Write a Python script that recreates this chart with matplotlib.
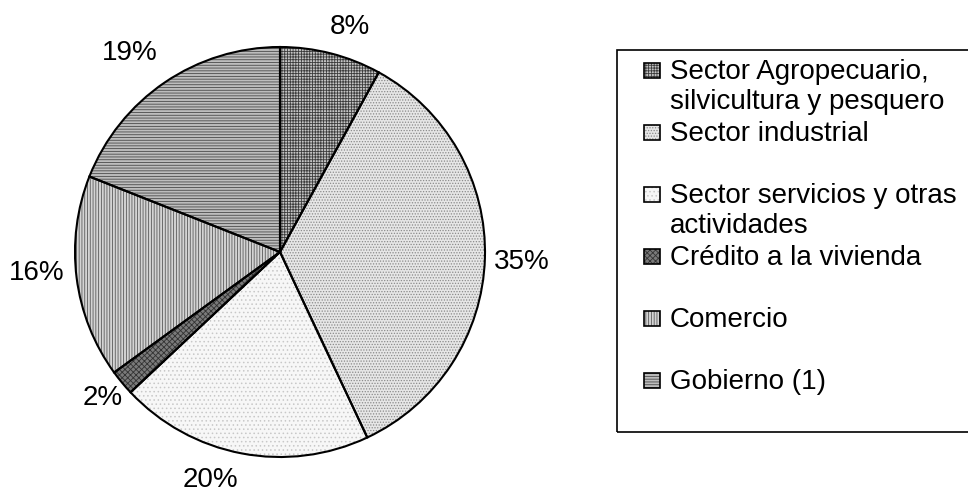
import matplotlib
matplotlib.use("Agg")
from matplotlib import pyplot as plt
from matplotlib.patches import Rectangle

plt.rcParams['font.family'] = ['Liberation Sans', 'DejaVu Sans']
plt.rcParams['hatch.linewidth'] = 0.6

W, H = 968, 492

# data
labels = ["Sector Agropecuario,\nsilvicultura y pesquero",
          "Sector industrial",
          "Sector servicios y otras\nactividades",
          "Crédito a la vivienda",
          "Comercio",
          "Gobierno (1)"]
shares = [8, 35, 20, 2, 16, 19]

# fill / hatch style per slice (grey patterns like the original print)
faces = ['#c4c4c4', '#e6e6e6', '#f7f7f7', '#7a7a7a', '#d4d4d4', '#bdbdbd']
hcols = ['#3c3c3c', '#8a8a8a', '#c8c8c8', '#333333', '#5a5a5a', '#4a4a4a']
hatches = ['+' * 6, '.' * 6, '.' * 4, 'x' * 6, '|' * 6, '-' * 6]

# where excel put the percentage labels (pixel centres)
pct_pos = [(350, 27), (522, 262), (210, 480), (103, 398), (37, 273), (130, 53)]

fig = plt.figure(figsize=(W / 100, H / 100), dpi=100)
cx, cy, r = 280, 252, 205
ax = fig.add_axes([(cx - r) / W, (H - cy - r) / H, 2 * r / W, 2 * r / H])

# first pass: patterned fills, hatch drawn in edge colour
wedges, _ = ax.pie(shares, startangle=90, counterclock=False, radius=1,
                   colors=faces, wedgeprops=dict(linewidth=0))
for w, h, hc in zip(wedges, hatches, hcols):
    w.set_hatch(h)
    w.set_edgecolor(hc)

# second pass: black outlines
ax.pie(shares, startangle=90, counterclock=False, radius=1,
       wedgeprops=dict(fill=False, edgecolor='black', linewidth=1.5))
ax.set_xlim(-1, 1)
ax.set_ylim(-1, 1)

for s, (px, py) in zip(shares, pct_pos):
    fig.text(px / W, 1 - py / H, "%d%%" % s, fontsize=20,
             ha='center', va='center')

# legend frame
fig.patches.append(Rectangle((617 / W, 1 - 432 / H), 400 / W, 382 / H,
                             transform=fig.transFigure, fill=False,
                             edgecolor='black', linewidth=1.2))

# legend entries, one slot every 62 px like the original
for i, (lab, f, h, hc) in enumerate(zip(labels, faces, hatches, hcols)):
    base = 79 + 62 * i
    box = (644 / W, 1 - (base - 1) / H)
    fig.patches.append(Rectangle(box, 16 / W, 15 / H, transform=fig.transFigure,
                                 facecolor=f, hatch=h, edgecolor=hc, linewidth=0))
    fig.patches.append(Rectangle(box, 16 / W, 15 / H, transform=fig.transFigure,
                                 fill=False, edgecolor='black', linewidth=1.2))
    fig.text(670 / W, 1 - base / H, lab.split("\n")[0], fontsize=20,
             ha='left', va='baseline')
    if "\n" in lab:
        fig.text(670 / W, 1 - (base + 30) / H, lab.split("\n")[1], fontsize=20,
                 ha='left', va='baseline')

fig.savefig("out.png", dpi=100)
